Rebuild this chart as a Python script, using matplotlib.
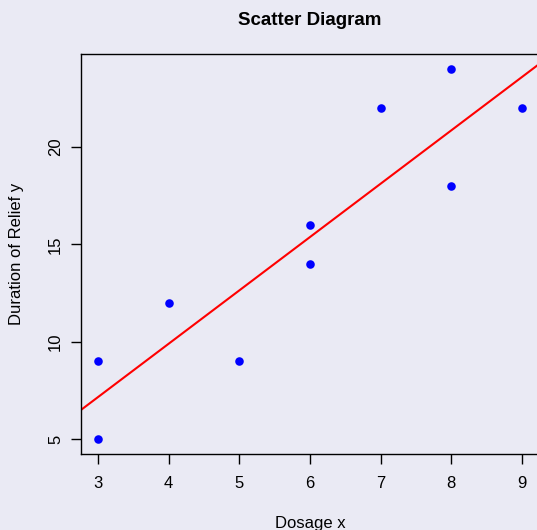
import matplotlib
matplotlib.use("Agg")
import matplotlib.pyplot as plt
import numpy as np

plt.rcParams['font.family'] = ['Liberation Sans', 'DejaVu Sans']

# Dosage and duration of relief
dosage = [3, 3, 4, 5, 6, 6, 7, 8, 8, 9]
relief = [9, 5, 12, 9, 14, 16, 22, 18, 24, 22]
x_ticks = [3, 4, 5, 6, 7, 8, 9]
y_ticks = [5, 10, 15, 20]

bg = '#EAEAF4'

fig = plt.figure(figsize=(5.37, 5.30), dpi=100, facecolor=bg)
ax = fig.add_axes([81 / 537, (530 - 453.8) / 530, 458 / 537, (453.8 - 54.3) / 530])
ax.set_facecolor(bg)

ax.scatter(dosage, relief, s=38, color='#0000FF', zorder=3, linewidths=0)

slope, intercept = np.polyfit(dosage, relief, 1)
xs = np.array([2.0, 10.0])
ax.plot(xs, intercept + slope * xs, color='#FF0000', lw=1.5, zorder=2)

ax.set_xlim(2.76, 9.24)
ax.set_ylim(4.24, 24.76)
ax.set_xticks(x_ticks)
ax.set_yticks(y_ticks)
ax.set_yticklabels([str(v) for v in y_ticks], rotation=90, va='center')
ax.tick_params(direction='out', length=7, width=1, labelsize=12, pad=6, colors='black')
ax.tick_params(axis='x', pad=9)
for s in ax.spines.values():
    s.set_linewidth(1)
    s.set_color('black')

ax.set_title('Scatter Diagram', fontsize=13.5, fontweight='bold', pad=21)
ax.set_xlabel('Dosage x', fontsize=12, labelpad=18)
ax.set_ylabel('Duration of Relief y', fontsize=12, labelpad=17)

fig.savefig('out.png', dpi=100, facecolor=bg)
